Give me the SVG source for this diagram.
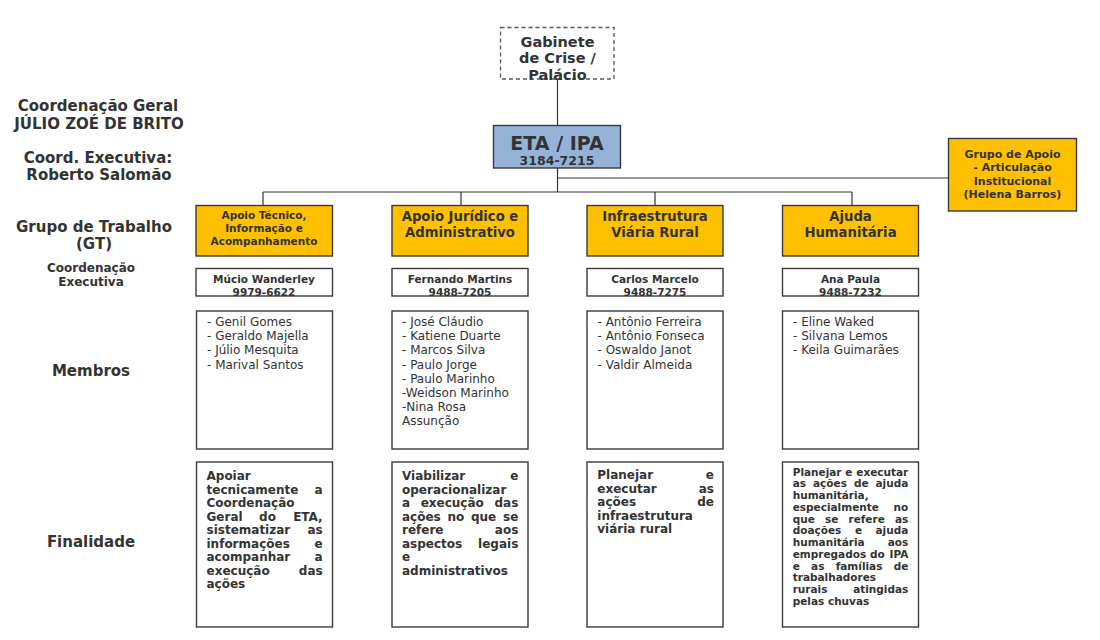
<svg xmlns="http://www.w3.org/2000/svg" width="1100" height="640" viewBox="0 0 1100 640">
<style>
text{font-family:"DejaVu Sans","Liberation Sans",sans-serif;fill:#333}
.b{font-weight:bold}
.lbl{font-size:15px;font-weight:bold;text-anchor:middle}
.lbls{font-size:12px;font-weight:bold;text-anchor:middle}
.hdr{fill:#ffc000;stroke:#3a3a3a;stroke-width:1.4}
.box{fill:#fff;stroke:#3a3a3a;stroke-width:1.4}
.h1{font-size:10.5px;font-weight:bold;text-anchor:middle}
.h2{font-size:13.2px;font-weight:bold;text-anchor:middle}
.co{font-size:10.5px;font-weight:bold;text-anchor:middle}
.mem{font-size:12px}
.fin{font-size:12px;font-weight:bold}
.fin4{font-size:10.5px;font-weight:bold}
.e{text-anchor:end}
.con{stroke:#333;stroke-width:1.2;fill:none}
</style>

<g id="labels">
<text class="lbl" x="98" y="111">Coordenação Geral</text>
<text class="lbl" x="99" y="129">JÚLIO ZOÉ DE BRITO</text>
<text class="lbl" x="98" y="163">Coord. Executiva:</text>
<text class="lbl" x="99" y="180">Roberto Salomão</text>
<text class="lbl" x="94" y="232">Grupo de Trabalho</text>
<text class="lbl" x="94" y="249">(GT)</text>
<text class="lbls" x="91" y="272">Coordenação</text>
<text class="lbls" x="91" y="286">Executiva</text>
<text class="lbl" x="91" y="376">Membros</text>
<text class="lbl" x="91" y="547">Finalidade</text>
</g>

<g id="connectors">
<line class="con" x1="557.5" y1="79" x2="557.5" y2="125"/>
<line class="con" x1="557.5" y1="168" x2="557.5" y2="192"/>
<line class="con" x1="557.5" y1="178" x2="948" y2="178"/>
<line class="con" x1="263" y1="192" x2="852" y2="192"/>
<line class="con" x1="263" y1="192" x2="263" y2="205"/>
<line class="con" x1="461" y1="192" x2="461" y2="205"/>
<line class="con" x1="655" y1="192" x2="655" y2="205"/>
<line class="con" x1="852" y1="192" x2="852" y2="205"/>
</g>

<g id="node-gabinete">
<rect x="500.5" y="27.5" width="113.5" height="51.5" fill="#fff" stroke="#555" stroke-width="1.3" stroke-dasharray="4,3"/>
<text class="b" x="557.5" y="46.5" font-size="14.5" text-anchor="middle">Gabinete</text>
<text class="b" x="557.5" y="63" font-size="14.5" text-anchor="middle">de Crise /</text>
<text class="b" x="557.5" y="79.5" font-size="14.5" text-anchor="middle">Palácio</text>
</g>

<g id="node-eta">
<rect x="493.5" y="125.5" width="127" height="42.5" fill="#95b3d7" stroke="#3a3a3a" stroke-width="1.4"/>
<text class="b" x="557" y="150" font-size="19" text-anchor="middle">ETA / IPA</text>
<text class="b" x="557" y="165" font-size="12.5" text-anchor="middle">3184-7215</text>
</g>

<g id="node-grupo-apoio">
<rect x="948.5" y="138.5" width="128" height="72.5" class="hdr"/>
<text class="b" x="1012.5" y="157.5" font-size="11" text-anchor="middle">Grupo de Apoio</text>
<text class="b" x="1012.5" y="171" font-size="11" text-anchor="middle">- Articulação</text>
<text class="b" x="1012.5" y="184.5" font-size="11" text-anchor="middle">Institucional</text>
<text class="b" x="1012.5" y="198" font-size="11" text-anchor="middle">(Helena Barros)</text>
</g>

<!-- Column 1 -->
<g id="gt-apoio-tecnico">
<rect x="196" y="205.5" width="136.5" height="50.5" class="hdr"/>
<text class="h1" x="264" y="218.5">Apoio Técnico,</text>
<text class="h1" x="264" y="231.5">Informação e</text>
<text class="h1" x="264" y="244.5">Acompanhamento</text>
</g>
<g id="coord-mucio">
<rect x="196" y="268.5" width="136.5" height="27.5" class="box"/>
<text class="co" x="264" y="283">Múcio Wanderley</text>
<text class="co" x="264" y="295.5">9979-6622</text>
</g>
<g id="membros-1">
<rect x="196.5" y="311" width="136" height="138" class="box"/>
<text class="mem" x="207" y="326">- Genil Gomes</text>
<text class="mem" x="207" y="340.2">- Geraldo Majella</text>
<text class="mem" x="207" y="354.4">- Júlio Mesquita</text>
<text class="mem" x="207" y="368.6">- Marival Santos</text>
</g>
<g id="finalidade-1">
<rect x="196.5" y="462" width="136" height="165" class="box"/>
<text class="fin" x="206.5" y="480">Apoiar</text>
<text class="fin" x="206.5" y="493.5">tecnicamente</text><text class="fin e" x="322.7" y="493.5">a</text>
<text class="fin" x="206.5" y="507">Coordenação</text>
<text class="fin" x="206.5" y="520.5">Geral</text><text class="fin" x="259.1" y="520.5">do</text><text class="fin e" x="322.7" y="520.5">ETA,</text>
<text class="fin" x="206.5" y="534">sistematizar</text><text class="fin e" x="322.7" y="534">as</text>
<text class="fin" x="206.5" y="547.5">informações</text><text class="fin e" x="322.7" y="547.5">e</text>
<text class="fin" x="206.5" y="561">acompanhar</text><text class="fin e" x="322.7" y="561">a</text>
<text class="fin" x="206.5" y="574.5">execução</text><text class="fin e" x="322.7" y="574.5">das</text>
<text class="fin" x="206.5" y="588">ações</text>
</g>

<!-- Column 2 -->
<g id="gt-apoio-juridico">
<rect x="392" y="205.5" width="136" height="50.5" class="hdr"/>
<text class="h2" x="460" y="220.7">Apoio Jurídico e</text>
<text class="h2" x="460" y="236.7">Administrativo</text>
</g>
<g id="coord-fernando">
<rect x="392" y="268.5" width="136" height="27.5" class="box"/>
<text class="co" x="460" y="283">Fernando Martins</text>
<text class="co" x="460" y="295.5">9488-7205</text>
</g>
<g id="membros-2">
<rect x="392" y="311" width="136" height="138" class="box"/>
<text class="mem" x="402" y="326">- José Cláudio</text>
<text class="mem" x="402" y="340.2">- Katiene Duarte</text>
<text class="mem" x="402" y="354.4">- Marcos Silva</text>
<text class="mem" x="402" y="368.6">- Paulo Jorge</text>
<text class="mem" x="402" y="382.8">- Paulo Marinho</text>
<text class="mem" x="402" y="397">-Weidson Marinho</text>
<text class="mem" x="402" y="411.2">-Nina Rosa</text>
<text class="mem" x="402" y="425.4">Assunção</text>
</g>
<g id="finalidade-2">
<rect x="392" y="462" width="136" height="165" class="box"/>
<text class="fin" x="402" y="480">Viabilizar</text><text class="fin e" x="518.3" y="480">e</text>
<text class="fin" x="402" y="493.5">operacionalizar</text>
<text class="fin" x="402" y="507">a</text><text class="fin" x="420.7" y="507">execução</text><text class="fin e" x="518.3" y="507">das</text>
<text class="fin" x="402" y="520.5">ações</text><text class="fin" x="447.4" y="520.5">no</text><text class="fin" x="470.9" y="520.5">que</text><text class="fin e" x="518.3" y="520.5">se</text>
<text class="fin" x="402" y="534">refere</text><text class="fin e" x="518.3" y="534">aos</text>
<text class="fin" x="402" y="547.5">aspectos</text><text class="fin e" x="518.3" y="547.5">legais</text>
<text class="fin" x="402" y="561">e</text>
<text class="fin" x="402" y="574.5">administrativos</text>
</g>

<!-- Column 3 -->
<g id="gt-infraestrutura">
<rect x="587" y="205.5" width="136" height="50.5" class="hdr"/>
<text class="h2" x="655" y="220.7">Infraestrutura</text>
<text class="h2" x="655" y="236.7">Viária Rural</text>
</g>
<g id="coord-carlos">
<rect x="587" y="268.5" width="136" height="27.5" class="box"/>
<text class="co" x="655" y="283">Carlos Marcelo</text>
<text class="co" x="655" y="295.5">9488-7275</text>
</g>
<g id="membros-3">
<rect x="587" y="311" width="136" height="138" class="box"/>
<text class="mem" x="597.5" y="326">- Antônio Ferreira</text>
<text class="mem" x="597.5" y="340.2">- Antônio Fonseca</text>
<text class="mem" x="597.5" y="354.4">- Oswaldo Janot</text>
<text class="mem" x="597.5" y="368.6">- Valdir Almeida</text>
</g>
<g id="finalidade-3">
<rect x="587" y="462" width="136" height="165" class="box"/>
<text class="fin" x="597.3" y="479">Planejar</text><text class="fin e" x="714" y="479">e</text>
<text class="fin" x="597.3" y="492.6">executar</text><text class="fin e" x="714" y="492.6">as</text>
<text class="fin" x="597.3" y="506.2">ações</text><text class="fin e" x="714" y="506.2">de</text>
<text class="fin" x="597.3" y="519.8">infraestrutura</text>
<text class="fin" x="597.3" y="533.4">viária rural</text>
</g>

<!-- Column 4 -->
<g id="gt-ajuda">
<rect x="782.5" y="205.5" width="136" height="50.5" class="hdr"/>
<text class="h2" x="850.5" y="220.7">Ajuda</text>
<text class="h2" x="850.5" y="236.7">Humanitária</text>
</g>
<g id="coord-ana">
<rect x="782.5" y="268.5" width="136" height="27.5" class="box"/>
<text class="co" x="850.5" y="283">Ana Paula</text>
<text class="co" x="850.5" y="295.5">9488-7232</text>
</g>
<g id="membros-4">
<rect x="782.5" y="311" width="136" height="138" class="box"/>
<text class="mem" x="793" y="326">- Eline Waked</text>
<text class="mem" x="793" y="340.2">- Silvana Lemos</text>
<text class="mem" x="793" y="354.4">- Keila Guimarães</text>
</g>
<g id="finalidade-4">
<rect x="782.5" y="462" width="136" height="165" class="box"/>
<text class="fin4" x="792.7" y="475.5">Planejar</text><text class="fin4" x="845.3" y="475.5">e</text><text class="fin4 e" x="908.3" y="475.5">executar</text>
<text class="fin4" x="792.7" y="487.25">as</text><text class="fin4" x="813" y="487.25">ações</text><text class="fin4" x="853.9" y="487.25">de</text><text class="fin4 e" x="908.3" y="487.25">ajuda</text>
<text class="fin4" x="792.7" y="499">humanitária,</text>
<text class="fin4" x="792.7" y="510.75">especialmente</text><text class="fin4 e" x="908.3" y="510.75">no</text>
<text class="fin4" x="792.7" y="522.5">que</text><text class="fin4" x="825" y="522.5">se</text><text class="fin4" x="848.5" y="522.5">refere</text><text class="fin4 e" x="908.3" y="522.5">as</text>
<text class="fin4" x="792.7" y="534.25">doações</text><text class="fin4" x="854.9" y="534.25">e</text><text class="fin4 e" x="908.3" y="534.25">ajuda</text>
<text class="fin4" x="792.7" y="546">humanitária</text><text class="fin4 e" x="908.3" y="546">aos</text>
<text class="fin4" x="792.7" y="557.75">empregados</text><text class="fin4" x="870" y="557.75">do</text><text class="fin4 e" x="908.3" y="557.75">IPA</text>
<text class="fin4" x="792.7" y="569.5">e</text><text class="fin4" x="811.1" y="569.5">as</text><text class="fin4" x="835.7" y="569.5">famílias</text><text class="fin4 e" x="908.3" y="569.5">de</text>
<text class="fin4" x="792.7" y="581.25">trabalhadores</text>
<text class="fin4" x="792.7" y="593">rurais</text><text class="fin4 e" x="908.3" y="593">atingidas</text>
<text class="fin4" x="792.7" y="604.75">pelas chuvas</text>
</g>
</svg>
